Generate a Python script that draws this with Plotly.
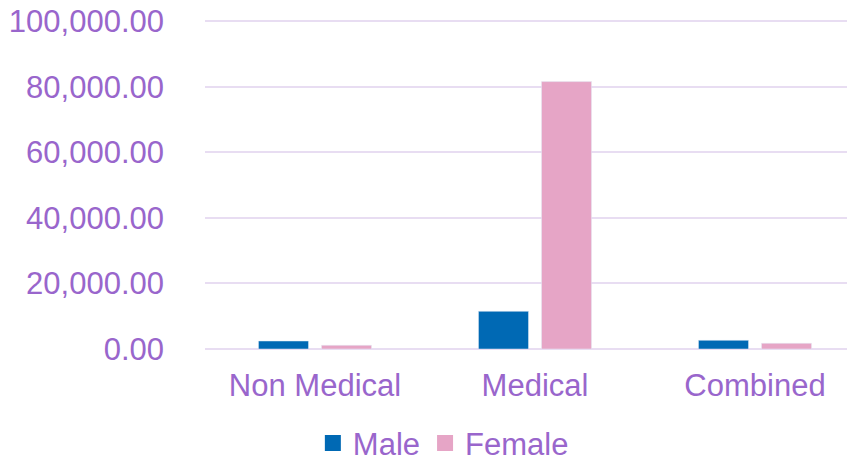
import plotly.graph_objects as go

categories = ["Non Medical", "Medical", "Combined"]
male = [2440, 11500, 2650]
female = [1130, 81600, 1740]
tick_vals = [0, 20000, 40000, 60000, 80000, 100000]

purple = "#9966CC"
grid = "#E8DDF2"
male_color = "#0069B4"
female_color = "#E6A5C6"

fig = go.Figure()
fig.add_trace(go.Bar(name="Male", x=categories, y=male, marker_color=male_color, showlegend=False))
fig.add_trace(go.Bar(name="Female", x=categories, y=female, marker_color=female_color, showlegend=False))
# legend entries with larger square swatches
for nm, col in [("Male", male_color), ("Female", female_color)]:
    fig.add_trace(go.Scatter(name=nm, x=[None], y=[None], mode="markers",
                             marker=dict(symbol="square", size=17, color=col)))

fig.update_layout(
    width=847, height=454,
    margin=dict(l=197, r=0, t=12, b=113, autoexpand=False),
    paper_bgcolor="white", plot_bgcolor="white",
    barmode="group", bargap=0.427, bargroupgap=0.206,
    font=dict(family="Liberation Sans, Arial, sans-serif", size=31, color=purple),
    showlegend=True,
    legend=dict(orientation="h", xref="container", x=0.514, xanchor="center",
                yref="container", y=0.041, yanchor="middle",
                font=dict(size=31, color=purple), itemwidth=30,
                traceorder="normal", tracegroupgap=0),
)
fig.update_yaxes(range=[0, 100400], tickvals=tick_vals, tickformat=",.2f",
                 showgrid=True, gridcolor=grid, gridwidth=2,
                 zeroline=True, zerolinecolor=grid, zerolinewidth=2,
                 showline=False, ticks="", ticklabelstandoff=40, automargin=False,
                 ticklabeloverflow="allow",
                 tickfont=dict(size=31, color=purple))
fig.update_xaxes(showline=False, ticks="", showgrid=False, automargin=False,
                 range=[-0.5, 2.4545],
                 tickfont=dict(size=31, color=purple), ticklabelstandoff=15)

fig.write_html("out.html")
